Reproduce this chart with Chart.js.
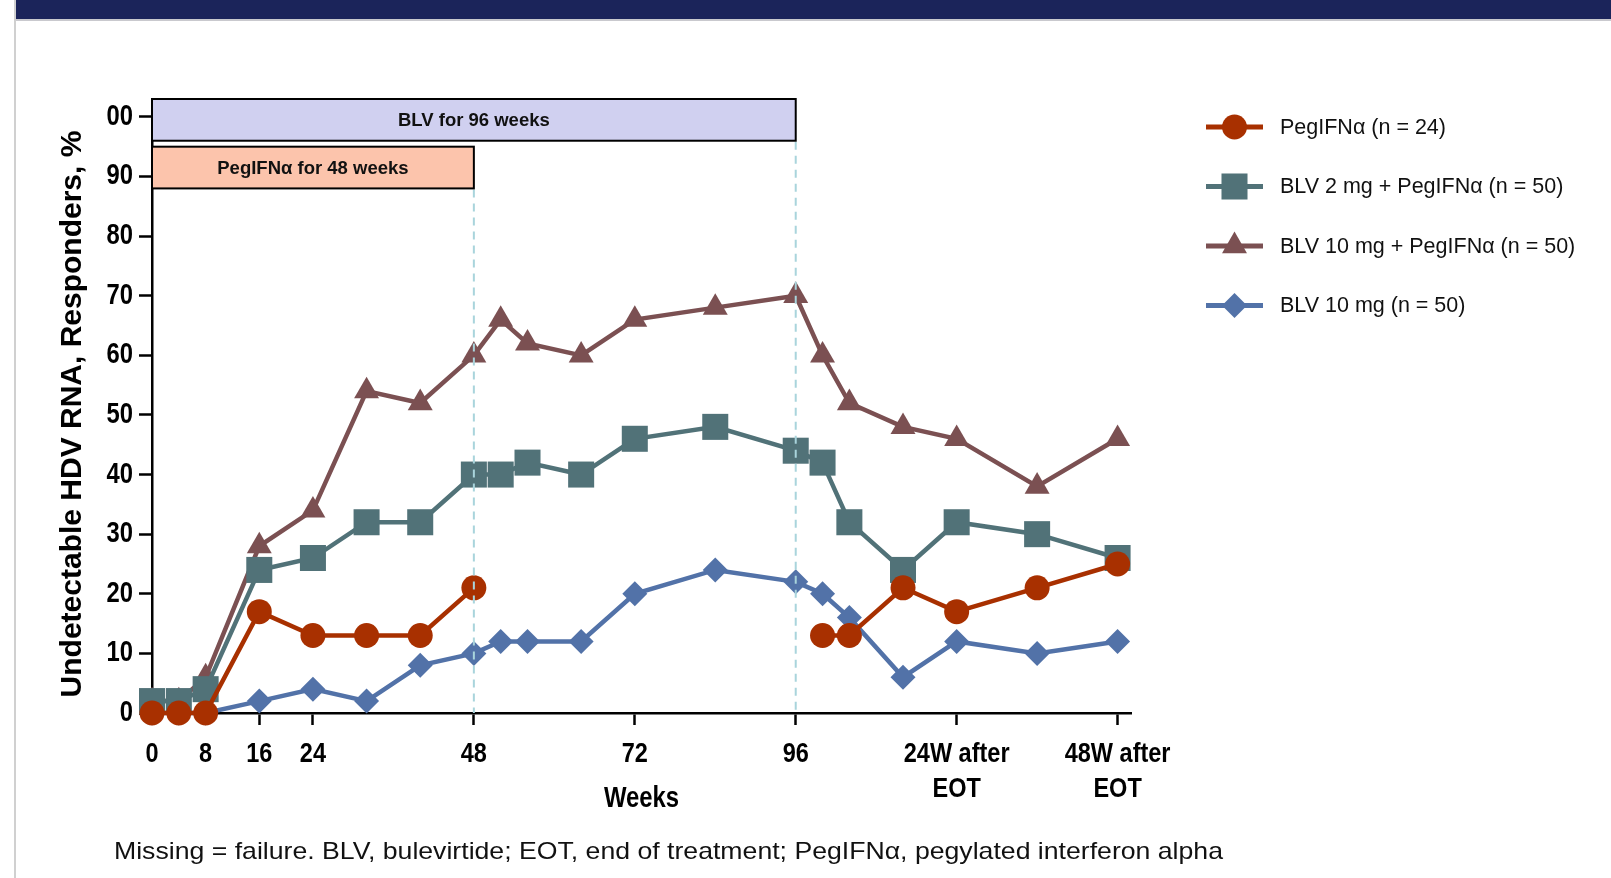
<!DOCTYPE html>
<html><head><meta charset="utf-8">
<script src="https://cdn.jsdelivr.net/npm/chart.js@4.4.0/dist/chart.umd.min.js"></script>
<style>
html,body{margin:0;padding:0;background:#fff;width:1611px;height:878px;overflow:hidden;}
#wrap{position:relative;width:1611px;height:878px;}
#banner{position:absolute;left:16px;top:0;width:1595px;height:19px;background:#1b245a;}
#shadow{position:absolute;left:16px;top:19px;width:1595px;height:2px;background:#c9c9ce;}
#vline{position:absolute;left:14px;top:0;width:2px;height:878px;background:#d0d0d0;}
#note{position:absolute;left:114px;top:836px;font:24px 'Liberation Sans',Arial,sans-serif;color:#111;white-space:nowrap;line-height:30px;transform:scaleX(1.11);transform-origin:0 50%;}
canvas{position:absolute;left:0;top:0;}
</style></head>
<body><div id="wrap">
<canvas id="c" width="1611" height="878"></canvas>
<div id="vline"></div><div id="banner"></div><div id="shadow"></div>
<div id="note">Missing = failure. BLV, bulevirtide; EOT, end of treatment; PegIFNα, pegylated interferon alpha</div>
</div>
<script>
// ---- data ----
const WEEKS = [0,4,8,16,24,32,40,48,52,56,64,72,84,96,100,104,112,120,132,144];
const PEG_IFN = [0,0,0,17,13,13,13,21,null,null,null,null,null,null,13,13,21,17,21,25];
const BLV2_PEG = [2,2,4,24,26,32,32,40,40,42,40,46,48,44,42,32,24,32,30,26];
const BLV10_PEG = [2,2,6,28,34,54,52,60,66,62,60,66,68,70,60,52,48,46,38,46];
const BLV10 = [0,0,0,2,4,2,8,10,12,12,12,20,24,22,20,16,6,12,10,12];
const SERIES_NAMES = ['PegIFNα (n = 24)','BLV 2 mg + PegIFNα (n = 50)','BLV 10 mg + PegIFNα (n = 50)','BLV 10 mg (n = 50)'];
const X_TICKS = [0,8,16,24,48,72,96,120,144];
const X_TICK_LABELS = ['0','8','16','24','48','72','96',['24W after','EOT'],['48W after','EOT']];
const Y_TICKS = [0,10,20,30,40,50,60,70,80,90,100];
const Y_TICK_LABELS = ['0','10','20','30','40','50','60','70','80','90','00'];
const TREATMENT_LABELS = ['BLV for 96 weeks','PegIFNα for 48 weeks'];
const TREATMENT_START_WEEKS = [0,0];
const TREATMENT_END_WEEKS = [96,48];

// ---- styles ----
const SANS = "'Liberation Sans',Arial,sans-serif";
const COLORS = ['#a83000','#517278','#7b5052','#5272a8'];
const STYLES = ['circle','rect','triangle','rectRot'];
const RADII = [12.5,18.4,14.4,12.5];
const SERIES = [PEG_IFN,BLV2_PEG,BLV10_PEG,BLV10];
const SQUEEZE = {x:0.84, y:0.82};
const Y_TITLE_SHIFT = 8;

// linear scale whose tick labels (and x title) are drawn horizontally condensed
class NarrowLinearScale extends Chart.LinearScale {
  drawLabels(chartArea) {
    if (!this.options.ticks.display) return;
    const ctx = this.ctx;
    const sx = SQUEEZE[this.axis] || 1;
    for (const item of this.getLabelItems(chartArea)) {
      const o = item.options;
      ctx.save();
      ctx.translate(o.translation[0], o.translation[1]);
      ctx.scale(sx, 1);
      Chart.helpers.renderText(ctx, item.label, 0, item.textOffset, item.font, Object.assign({}, o, {translation: null}));
      ctx.restore();
    }
  }
  drawTitle() {
    const ctx = this.ctx;
    ctx.save();
    if (this.isHorizontal()) {
      const cx = (this.left + this.right) / 2;
      ctx.translate(cx, 0); ctx.scale(SQUEEZE.x * 0.98, 1); ctx.translate(-cx, 0);
    } else {
      ctx.translate(0, Y_TITLE_SHIFT);
    }
    super.drawTitle();
    ctx.restore();
  }
}
NarrowLinearScale.id = 'narrowLinear';
NarrowLinearScale.defaults = Chart.LinearScale.defaults;
Chart.register(NarrowLinearScale);

const datasets = SERIES.map((vals,i)=>({
  label: SERIES_NAMES[i],
  data: WEEKS.map((w,j)=>({x:w,y:vals[j]})),
  borderColor: COLORS[i], backgroundColor: COLORS[i],
  pointBackgroundColor: COLORS[i], pointBorderColor: COLORS[i],
  pointBorderWidth: 0, pointStyle: STYLES[i], pointRadius: RADII[i], pointHoverRadius: RADII[i],
  borderWidth: 4.5, spanGaps: false, clip: false, tension: 0
}));

const treatmentPlugin = {
  id:'treatment',
  afterDatasetsDraw(chart, args, o){
    const {ctx, scales:{x,y}} = chart;
    TREATMENT_LABELS.forEach((lab,i)=>{
      const x0 = x.getPixelForValue(TREATMENT_START_WEEKS[i]);
      const x1 = x.getPixelForValue(TREATMENT_END_WEEKS[i]);
      const yTop = y.getPixelForValue(o.bands[i][1]);
      const yBot = y.getPixelForValue(o.bands[i][0]);
      ctx.save();
      ctx.setLineDash([8,6]); ctx.strokeStyle = o.dashColor; ctx.lineWidth = 2;
      ctx.beginPath(); ctx.moveTo(x1, yBot+1); ctx.lineTo(x1, y.getPixelForValue(0)); ctx.stroke();
      ctx.setLineDash([]);
      ctx.fillStyle = o.fills[i]; ctx.fillRect(x0, yTop, x1-x0, yBot-yTop);
      ctx.strokeStyle = '#000'; ctx.lineWidth = 2; ctx.strokeRect(x0, yTop, x1-x0, yBot-yTop);
      ctx.fillStyle = '#111'; ctx.font = 'bold 18.5px ' + SANS;
      ctx.textAlign = 'center'; ctx.textBaseline = 'middle';
      ctx.fillText(lab, (x0+x1)/2, (yTop+yBot)/2 + 1);
      ctx.restore();
    });
  }
};

const legendPlugin = {
  id:'sideLegend',
  afterDraw(chart, args, o){
    const ctx = chart.ctx;
    chart.data.datasets.forEach((ds,i)=>{
      const y = o.top + i*o.gap;
      ctx.save();
      ctx.strokeStyle = ds.borderColor; ctx.lineWidth = o.lineWidth;
      ctx.beginPath(); ctx.moveTo(o.left, y); ctx.lineTo(o.left+o.lineLen, y); ctx.stroke();
      ctx.fillStyle = ds.pointBackgroundColor;
      Chart.helpers.drawPoint(ctx, {pointStyle: ds.pointStyle, radius: ds.pointRadius, rotation:0, borderWidth:0}, o.left+o.lineLen/2, y);
      ctx.fillStyle = '#111'; ctx.font = o.font; ctx.textAlign='left'; ctx.textBaseline='middle';
      ctx.fillText(ds.label, o.textX, y+1);
      ctx.restore();
    });
  }
};

Chart.defaults.color = '#000';
new Chart(document.getElementById('c'), {
  type:'line',
  data:{datasets},
  plugins:[treatmentPlugin, legendPlugin],
  options:{
    responsive:false, animation:false, events:[],
    layout:{padding:{top:99,left:0,right:480,bottom:0}},
    plugins:{
      legend:{display:false}, tooltip:{enabled:false},
      treatment:{bands:[[96,103],[88,95]], fills:['#d0d0f0','#fcc4ac'], dashColor:'#a9d4dc'},
      sideLegend:{top:127, gap:59.5, left:1206, lineLen:57, lineWidth:5, textX:1280, font:'21.5px '+SANS}
    },
    scales:{
      x:{
        type:'narrowLinear', min:0, max:146,
        afterFit(s){ s.height = 165; },
        afterBuildTicks(s){ s.ticks = X_TICKS.map(v=>({value:v})); },
        grid:{drawOnChartArea:false, drawTicks:true, tickLength:12, tickWidth:2.5, tickColor:'#000'},
        border:{display:true, color:'#000', width:2.5},
        ticks:{autoSkip:false, maxRotation:0, minRotation:0, padding:12,
          font:{family:SANS, size:28, weight:'bold', lineHeight:1.25}, color:'#000',
          callback:(v,idx)=>X_TICK_LABELS[idx]},
        title:{display:true, text:'Weeks', color:'#000', padding:{top:0,bottom:61.6},
          font:{family:SANS, size:29, weight:'bold', lineHeight:1.2}}
      },
      y:{
        type:'narrowLinear', min:0, max:103,
        afterFit(s){ s.width = 152; },
        afterBuildTicks(s){ s.ticks = Y_TICKS.map(v=>({value:v})); },
        grid:{drawOnChartArea:false, drawTicks:true, tickLength:13, tickWidth:2.5, tickColor:'#000'},
        border:{display:true, color:'#000', width:2.5},
        ticks:{padding:6, font:{family:SANS, size:29, weight:'bold'}, color:'#000',
          callback:(v,idx)=>Y_TICK_LABELS[idx]},
        title:{display:true, text:'Undetectable HDV RNA, Responders, %', color:'#000',
          padding:{top:55,bottom:0}, font:{family:SANS, size:30, weight:'bold', lineHeight:1.2}}
      }
    }
  }
});
</script>
</body></html>
